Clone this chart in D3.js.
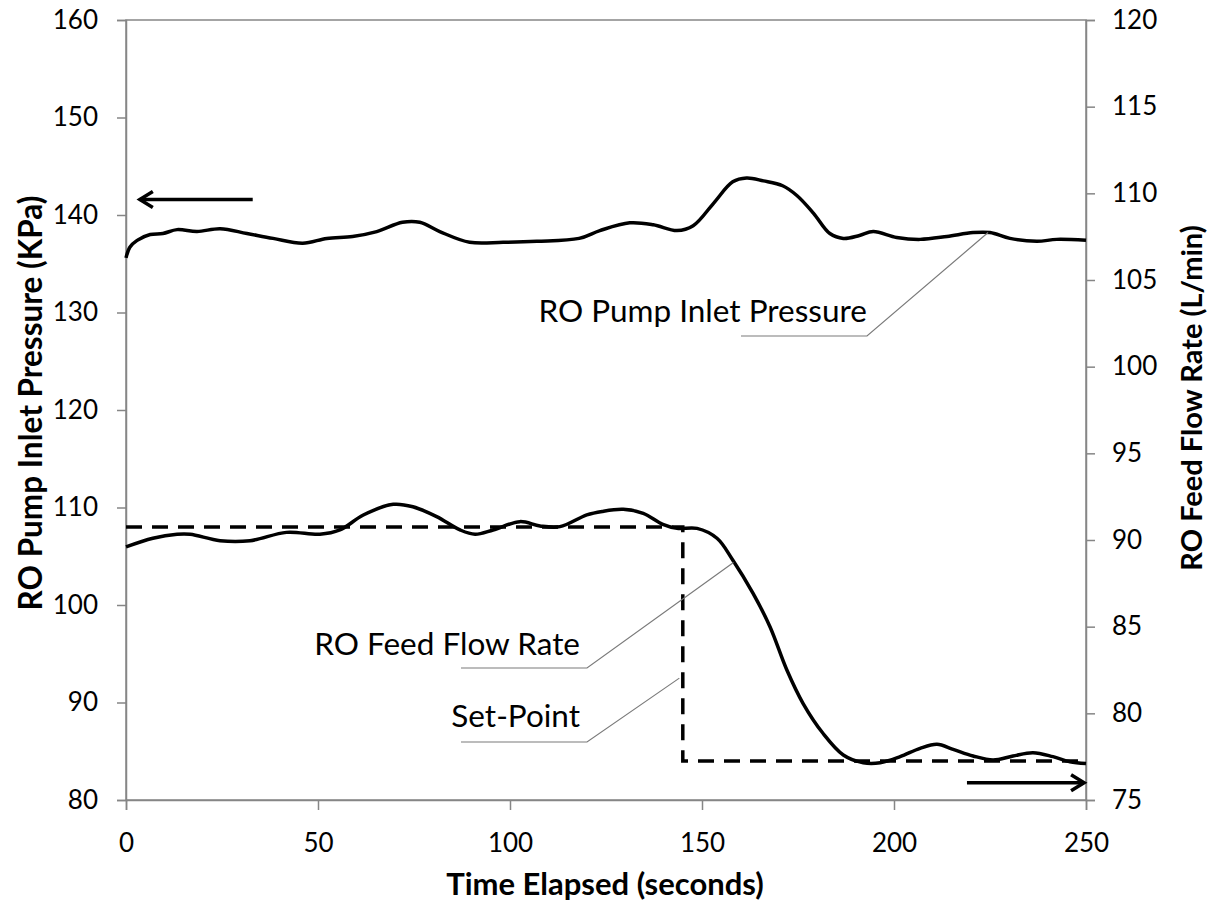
<!DOCTYPE html>
<html><head><meta charset="utf-8">
<script src="https://cdn.jsdelivr.net/npm/d3@7"></script>
<style>body{margin:0;background:#fff;} text{font-family:Lato,"Open Sans",sans-serif;}</style>
</head><body>
<svg id="c" width="1211" height="903"></svg>
<script>
const pressureTime=[0,1,2.9,6.3,9.6,13.3,18.5,24.5,31.5,38.3,46,52.3,59,65.3,72,76.5,81.7,89.5,98.2,107,118,123.4,131.2,137.3,143.5,147.7,153,158,161.6,166,171,174.7,179,183.3,186.8,191,194.6,200.7,206.8,213.8,220.6,225,230.2,237.2,242.4,250];
const pressureKPa=[135.6,136.7,137.4,138.0,138.1,138.5,138.3,138.6,138.1,137.6,137.1,137.6,137.8,138.3,139.25,139.25,138.3,137.2,137.2,137.3,137.6,138.4,139.2,139.0,138.4,138.9,141.2,143.4,143.8,143.5,143.0,142.0,140.2,138.1,137.6,137.9,138.3,137.7,137.5,137.8,138.2,138.2,137.6,137.3,137.5,137.4];
const flowTime=[0,7,13.3,16.7,24.5,32.3,41.8,50.5,55.7,61.8,69.6,74.7,80.9,87,90.9,95.6,102.6,107.8,113,120,124,129.5,134.7,139.8,143.5,148.7,153.9,158,163.3,167.7,172.1,176.3,181.5,186.8,192,196.4,201.6,206.8,211.2,215.4,220.6,225.8,231,236.2,241.4,245.8,250];
const flowLpm=[89.6,90.1,90.33,90.33,89.96,89.96,90.44,90.33,90.58,91.44,92.06,91.92,91.35,90.58,90.33,90.58,91.06,90.81,90.77,91.45,91.65,91.77,91.54,90.9,90.67,90.67,90.1,88.85,86.92,85.0,82.5,80.58,78.85,77.6,77.15,77.15,77.5,77.98,78.21,77.92,77.54,77.31,77.54,77.73,77.5,77.21,77.1];
const setTime=[0,145,145,250];
const setKPa=[108,108,84,84];
const xTicks=[0,50,100,150,200,250];
const leftTicks=[80,90,100,110,120,130,140,150,160];
const rightTicks=[75,80,85,90,95,100,105,110,115,120];
const labels=["RO Pump Inlet Pressure","RO Feed Flow Rate","Set-Point"];
const titles={x:"Time Elapsed (seconds)",yl:"RO Pump Inlet Pressure (KPa)",yr:"RO Feed Flow Rate (L/min)"};

const L=126,R=1086,T=20,B=800;
const svg=d3.select("#c");
const x=d3.scaleLinear().domain([0,250]).range([L,R]);
const yl=d3.scaleLinear().domain([80,160]).range([B,T]);
const yr=d3.scaleLinear().domain([75,120]).range([B,T]);
const gray="#868686";

// frame
svg.append("rect").attr("x",L).attr("y",T).attr("width",R-L).attr("height",B-T)
  .attr("fill","none").attr("stroke",gray).attr("stroke-width",1.5);

function styleAxis(g){
  g.select(".domain").attr("stroke",gray).attr("stroke-width",1.5);
  g.selectAll(".tick line").attr("stroke",gray).attr("stroke-width",1.5);
  g.selectAll(".tick text").attr("fill","#000").style("font-family","Lato").style("font-size","26px");
}
const gx=svg.append("g").attr("transform",`translate(0,${B})`)
  .call(d3.axisBottom(x).tickValues(xTicks).tickSize(10).tickPadding(24).tickFormat(d3.format("d")));
styleAxis(gx);
const gl=svg.append("g").attr("transform",`translate(${L},0)`)
  .call(d3.axisLeft(yl).tickValues(leftTicks).tickSize(9).tickPadding(19));
styleAxis(gl);
const gr=svg.append("g").attr("transform",`translate(${R},0)`)
  .call(d3.axisRight(yr).tickValues(rightTicks).tickSize(9).tickPadding(17));
styleAxis(gr);

// titles
svg.append("text").attr("x",605).attr("y",895).attr("text-anchor","middle")
  .style("font-weight","bold").style("font-size","31px").text(titles.x);
svg.append("text").attr("transform",`translate(42,403) rotate(-90)`).attr("text-anchor","middle")
  .style("font-weight","bold").style("font-size","31.5px").text(titles.yl);
svg.append("text").attr("transform",`translate(1202,398) rotate(-90)`).attr("text-anchor","middle")
  .style("font-weight","bold").style("font-size","29px").text(titles.yr);

// lines
const curve=d3.curveCatmullRom.alpha(0.5);
const pData=pressureTime.map((t,i)=>[t,pressureKPa[i]]);
const fData=flowTime.map((t,i)=>[t,flowLpm[i]]);
const sData=setTime.map((t,i)=>[t,setKPa[i]]);
svg.append("path").attr("d",d3.line().x(d=>x(d[0])).y(d=>yl(d[1])).curve(curve)(pData))
  .attr("fill","none").attr("stroke","#000").attr("stroke-width",3.5).attr("stroke-linejoin","round");
svg.append("path").attr("d",d3.line().x(d=>x(d[0])).y(d=>yl(d[1]))(sData))
  .attr("fill","none").attr("stroke","#000").attr("stroke-width",3.5).attr("stroke-dasharray","16,10");
svg.append("path").attr("d",d3.line().x(d=>x(d[0])).y(d=>yr(d[1])).curve(curve)(fData))
  .attr("fill","none").attr("stroke","#000").attr("stroke-width",3.5).attr("stroke-linejoin","round");

// leader lines
function leader(pts){
  svg.append("path").attr("d",d3.line()(pts)).attr("fill","none").attr("stroke","#7a7a7a").attr("stroke-width",1.2);
}
leader([[741,336],[867,336],[x(224.5),yl(138.2)]]);
leader([[461,668],[587,668],[x(158.2),yr(88.7)]]);
leader([[461,742],[587,742],[x(144.1),yl(92.5)]]);

svg.append("text").attr("x",867).attr("y",322).attr("text-anchor","end").style("font-size","31.5px").text(labels[0]);
svg.append("text").attr("x",580).attr("y",655).attr("text-anchor","end").style("font-size","31.5px").text(labels[1]);
svg.append("text").attr("x",580).attr("y",727).attr("text-anchor","end").style("font-size","31.5px").text(labels[2]);

// arrows
function arrow(x1,x2,y,dir){
  svg.append("line").attr("x1",x1).attr("x2",x2).attr("y1",y).attr("y2",y).attr("stroke","#000").attr("stroke-width",3.5);
  const tip=dir<0?x1:x2, back=tip-dir*13;
  svg.append("path").attr("d",`M${back},${y-8}L${tip},${y}L${back},${y+8}`).attr("fill","none")
    .attr("stroke","#000").attr("stroke-width",3.5).attr("stroke-linejoin","miter");
}
arrow(x(3.6),x(33),yl(141.6),-1);
arrow(x(219),x(249.5),yr(76.0),1);
</script>
</body></html>
